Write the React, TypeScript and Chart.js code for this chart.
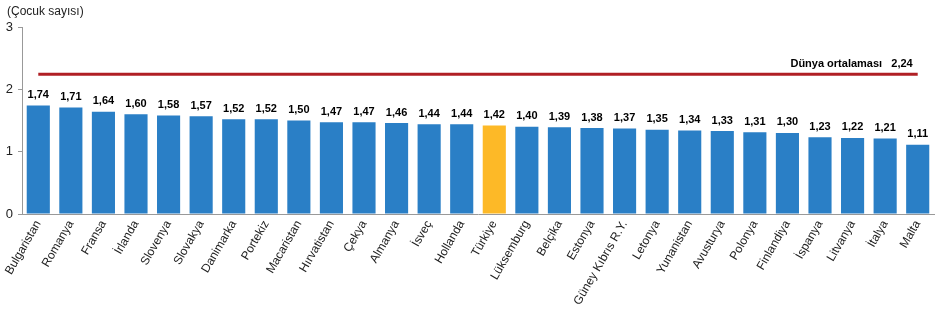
import React, { useEffect, useRef } from "react";
import { Chart, registerables } from "chart.js";

Chart.register(...registerables);

const countries = [
  "Bulgaristan", "Romanya", "Fransa", "İrlanda", "Slovenya", "Slovakya", "Danimarka",
  "Portekiz", "Macaristan", "Hırvatistan", "Çekya", "Almanya", "İsveç", "Hollanda",
  "Türkiye", "Lüksemburg", "Belçika", "Estonya", "Güney Kıbrıs R.Y.", "Letonya",
  "Yunanistan", "Avusturya", "Polonya", "Finlandiya", "İspanya", "Litvanya", "İtalya", "Malta",
];
const fertility = [
  1.74, 1.71, 1.64, 1.6, 1.58, 1.57, 1.52, 1.52, 1.5, 1.47, 1.47, 1.46, 1.44, 1.44,
  1.42, 1.4, 1.39, 1.38, 1.37, 1.35, 1.34, 1.33, 1.31, 1.3, 1.23, 1.22, 1.21, 1.11,
];
const worldAverage = 2.24;
const worldLabel = "Dünya ortalaması";
const yTicks = [0, 1, 2, 3];
const yTitle = "(Çocuk sayısı)";
const highlight = "Türkiye";

const fmt = (v: number) => v.toFixed(2).replace(".", ",");

export default function App() {
  const ref = useRef<HTMLCanvasElement>(null);
  useEffect(() => {
    if (!ref.current) return;
    const font = "'Liberation Sans', Arial, sans-serif";
    const labelsPlugin = {
      id: "labelsPlugin",
      afterDatasetsDraw(chart: any) {
        const ctx = chart.ctx;
        ctx.save();
        const meta = chart.getDatasetMeta(0);
        ctx.font = `bold 11px ${font}`;
        ctx.fillStyle = "#000";
        ctx.textAlign = "center";
        ctx.textBaseline = "bottom";
        meta.data.forEach((el: any, i: number) => {
          ctx.fillText(fmt(fertility[i]), el.x, el.y - 5);
        });
        const lmeta = chart.getDatasetMeta(1);
        const last = lmeta.data[lmeta.data.length - 1];
        ctx.textAlign = "right";
        ctx.textBaseline = "bottom";
        ctx.fillText(worldLabel + "   " + fmt(worldAverage), last.x - 5, last.y - 5);
        ctx.font = `12px ${font}`;
        ctx.textAlign = "left";
        ctx.textBaseline = "middle";
        ctx.fillStyle = "#222";
        ctx.fillText(yTitle, 7, 12);
        ctx.restore();
      },
    };
    const chart = new Chart(ref.current, {
      type: "bar",
      data: {
        labels: countries,
        datasets: [
          {
            type: "bar",
            data: fertility,
            backgroundColor: countries.map((c) => (c === highlight ? "#FDB927" : "#2A7FC6")),
            categoryPercentage: 1,
            barPercentage: 0.71,
            order: 2,
          },
          {
            type: "line",
            data: countries.map(() => worldAverage),
            borderColor: "#B01F24",
            borderWidth: 3,
            pointRadius: 0,
            fill: false,
            order: 1,
          } as any,
        ],
      },
      options: {
        animation: false,
        responsive: false,
        maintainAspectRatio: false,
        layout: { padding: { top: 27, right: 7, left: 0, bottom: 0 } },
        plugins: { legend: { display: false }, tooltip: { enabled: false } },
        scales: {
          x: {
            offset: true,
            grid: { display: false, drawOnChartArea: false, drawTicks: true, offset: true, tickLength: 4, color: "#999" },
            border: { display: true, color: "#999" },
            ticks: {
              minRotation: 60,
              maxRotation: 60,
              autoSkip: false,
              color: "#222",
              font: { family: font, size: 12 },
              padding: 0,
            },
            afterFit(scale: any) {
              scale.height = 103;
            },
          },
          y: {
            min: 0,
            max: 3,
            afterBuildTicks(scale: any) {
              scale.ticks = yTicks.map((v) => ({ value: v }));
            },
            grid: { drawOnChartArea: false, drawTicks: true, tickLength: 4, color: "#999" },
            border: { display: true, color: "#999" },
            ticks: {
              color: "#222",
              font: { family: font, size: 13 },
              padding: 5,
              callback: (v: any) => String(v),
            },
            afterFit(scale: any) {
              scale.width = 22;
            },
          },
        },
      } as any,
      plugins: [labelsPlugin],
    });
    return () => chart.destroy();
  }, []);
  return (
    <div style={{ position: "absolute", left: 0, top: 0, width: 941, height: 317, background: "#fff" }}>
      <canvas ref={ref} width={941} height={317} style={{ width: 941, height: 317, display: "block" }} />
    </div>
  );
}
